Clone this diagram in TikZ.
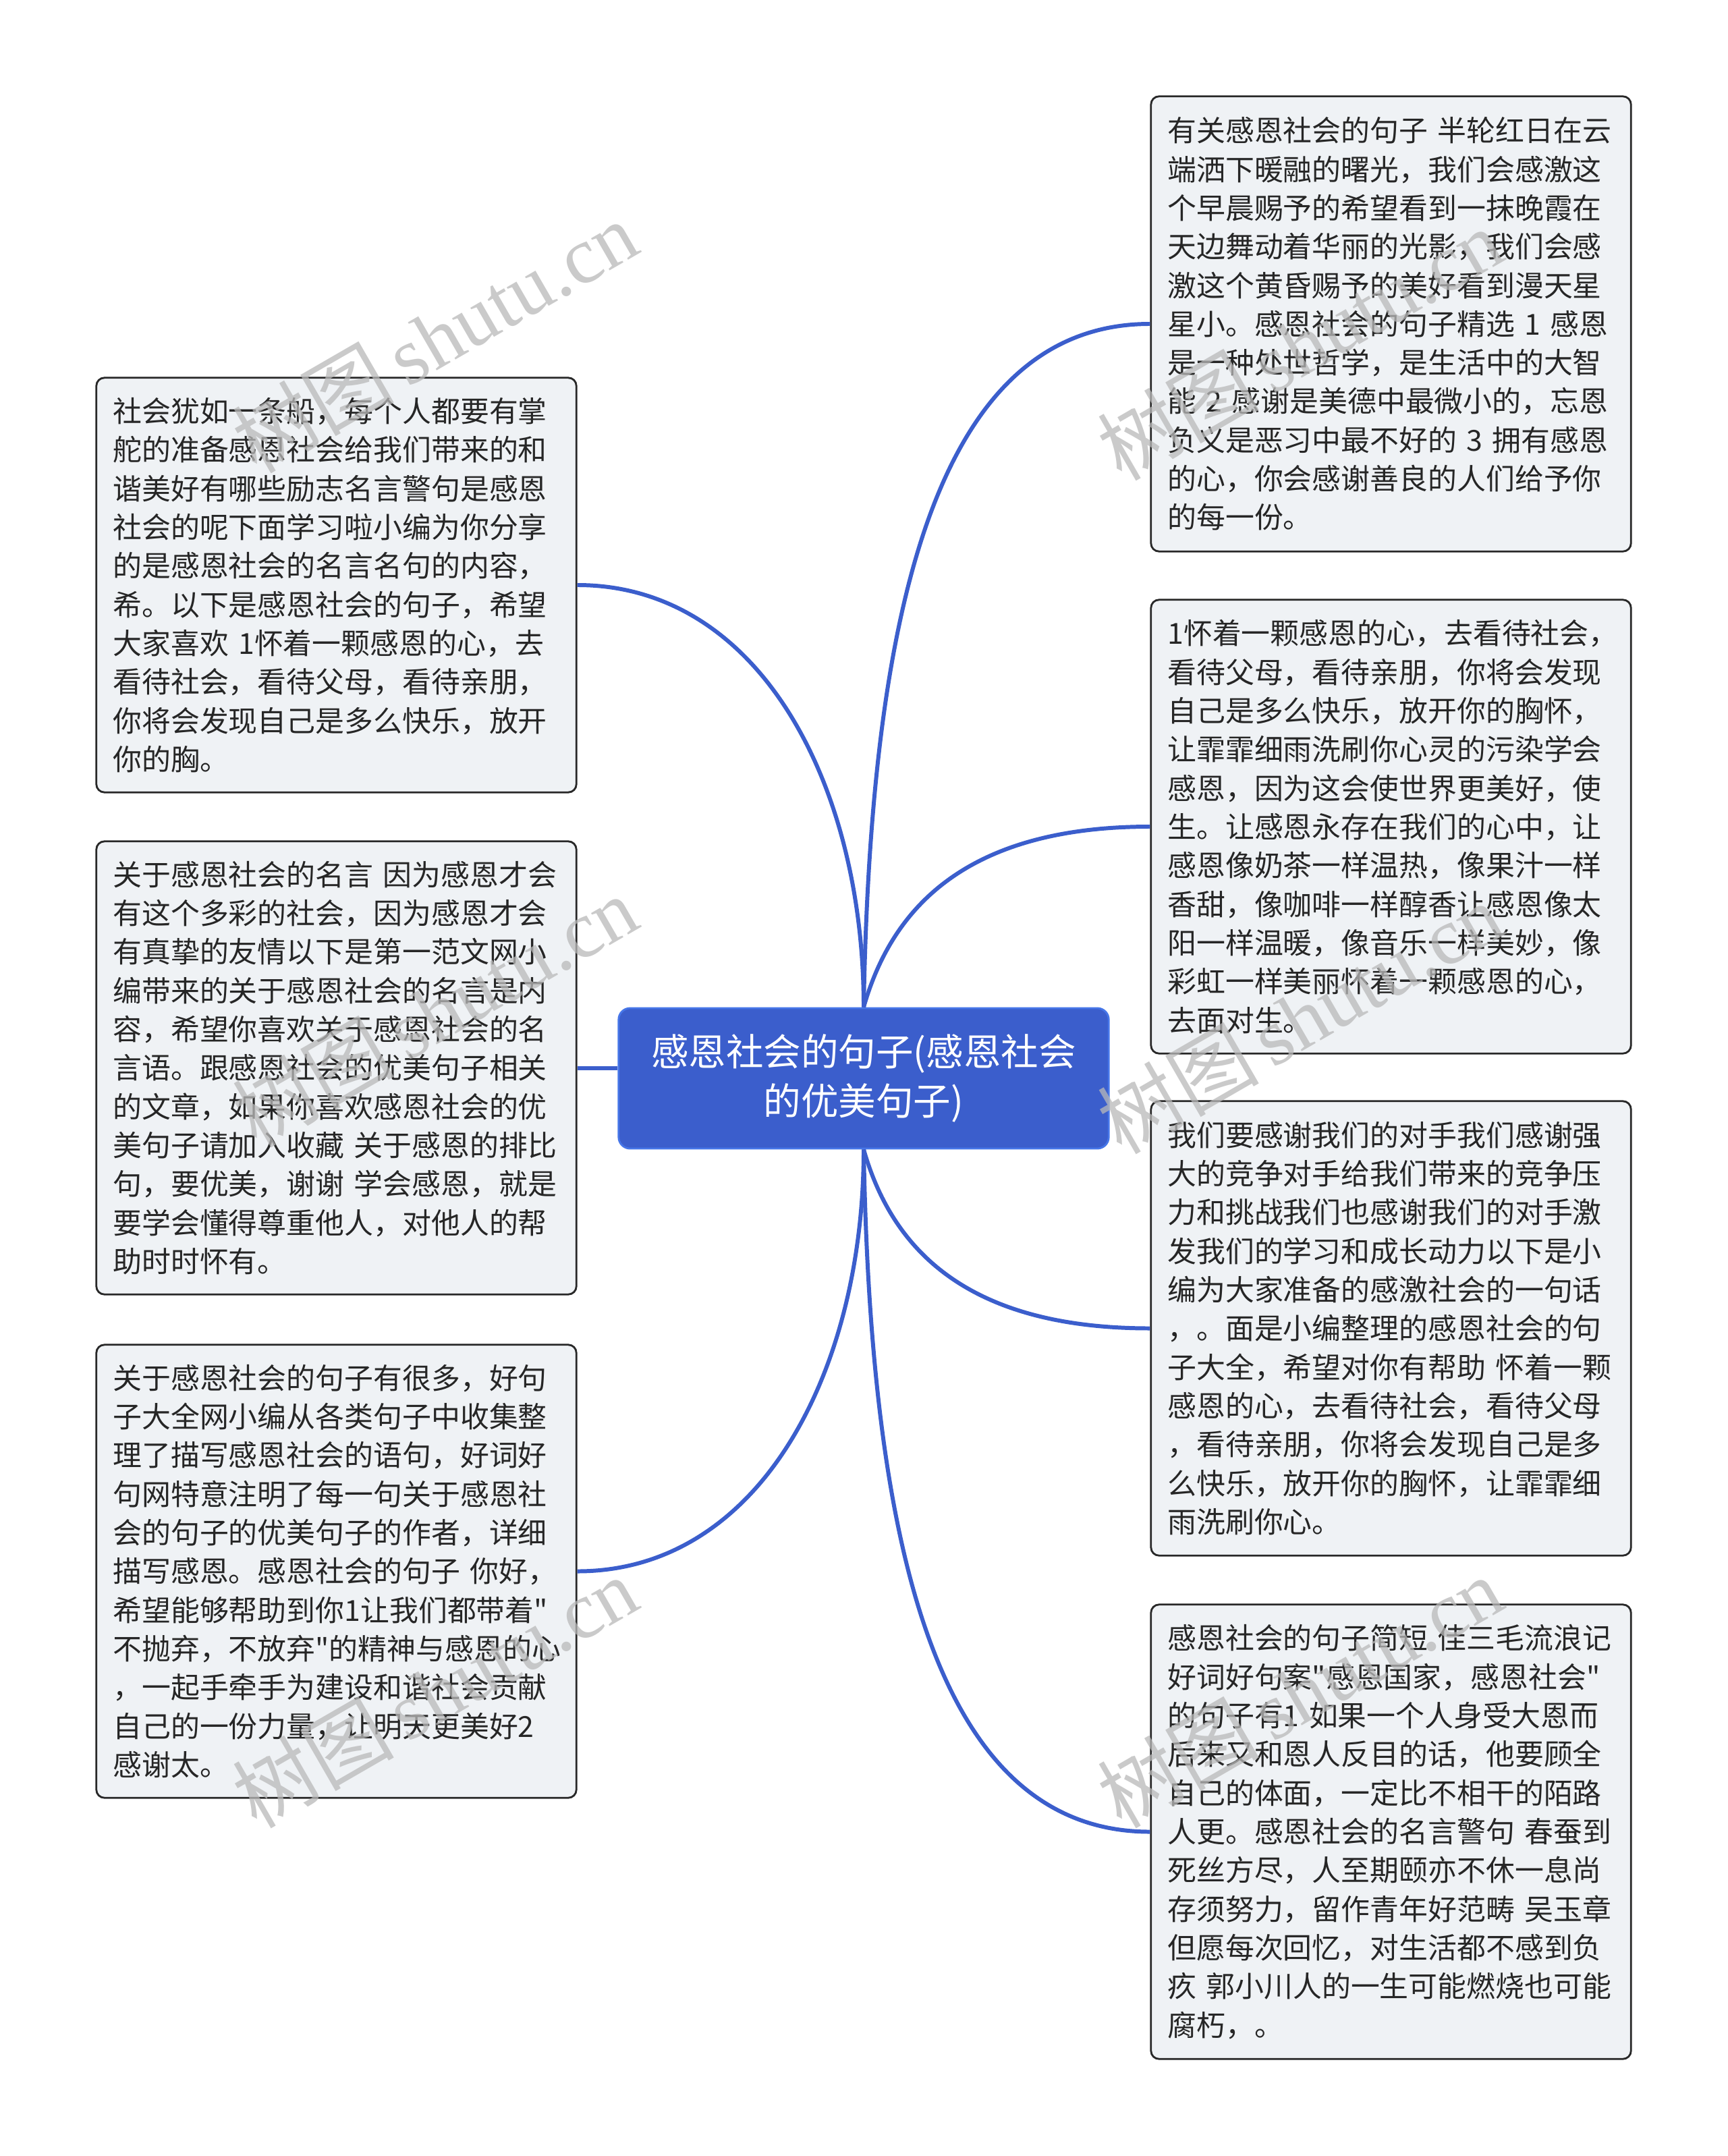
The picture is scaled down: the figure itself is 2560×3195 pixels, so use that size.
\documentclass[tikz,border=0pt]{standalone}
\usepackage{fontspec}
\newfontfamily\cjk{Noto Sans CJK SC}
\newfontfamily\marklatin{Liberation Serif}

\definecolor{rootblue}{RGB}{59,94,204}
\definecolor{rootedge}{RGB}{70,118,232}
\definecolor{leaffill}{RGB}{239,242,245}
\definecolor{leafedge}{RGB}{40,40,40}
\definecolor{leaftext}{RGB}{38,38,38}
\definecolor{markgray}{RGB}{185,185,185}

\begin{document}
\begin{tikzpicture}[x=0.01cm, y=-0.01cm,
    rootbox/.style={rectangle, rounded corners=0.17cm, fill=rootblue, draw=rootedge, line width=0.8pt,
        text=white, align=center, minimum width=7.26cm, minimum height=2.08cm,
        font=\cjk\fontsize{15.8pt}{20.8pt}\selectfont},
    leafbox/.style={rectangle, rounded corners=0.12cm, fill=leaffill, draw=leafedge, line width=0.8pt,
        text=leaftext, align=left, text width=6.62cm, inner xsep=0.245cm, inner ysep=0pt,
        font=\cjk\fontsize{12.2pt}{16.3pt}\selectfont},
    branchline/.style={draw=rootblue, line width=1.7pt},
    watermark/.style={rotate=30, text=markgray, text opacity=0.75, font=\fontsize{34pt}{34pt}\selectfont}]

    \path[fill=white, use as bounding box] (0,0) rectangle (2560,3195);

    % Draw the root node
    \node[rootbox] (root) at (1280,1598) {感恩社会的句子(感恩社会\\的优美句子)};

    % Draw nodes on the left side
    \node[leafbox, minimum height=6.14cm] (l1) at (498.5,867) {社会犹如一条船，每个人都要有掌\\舵的准备感恩社会给我们带来的和\\谐美好有哪些励志名言警句是感恩\\社会的呢下面学习啦小编为你分享\\的是感恩社会的名言名句的内容，\\希。以下是感恩社会的句子，希望\\大家喜欢 1怀着一颗感恩的心，去\\看待社会，看待父母，看待亲朋，\\你将会发现自己是多么快乐，放开\\你的胸。};
    \node[leafbox, minimum height=6.71cm] (l2) at (498.5,1582.5) {关于感恩社会的名言 因为感恩才会\\有这个多彩的社会，因为感恩才会\\有真挚的友情以下是第一范文网小\\编带来的关于感恩社会的名言是内\\容，希望你喜欢关于感恩社会的名\\言语。跟感恩社会的优美句子相关\\的文章，如果你喜欢感恩社会的优\\美句子请加入收藏 关于感恩的排比\\句，要优美，谢谢 学会感恩，就是\\要学会懂得尊重他人，对他人的帮\\助时时怀有。};
    \node[leafbox, minimum height=6.71cm] (l3) at (498.5,2328.5) {关于感恩社会的句子有很多，好句\\子大全网小编从各类句子中收集整\\理了描写感恩社会的语句，好词好\\句网特意注明了每一句关于感恩社\\会的句子的优美句子的作者，详细\\描写感恩。感恩社会的句子 你好，\\希望能够帮助到你1让我们都带着"\\不抛弃，不放弃"的精神与感恩的心\\，一起手牵手为建设和谐社会贡献\\自己的一份力量，让明天更美好2\\感谢太。};

    % Draw nodes on the right side
    \node[leafbox, minimum height=6.74cm] (r1) at (2061.5,480) {有关感恩社会的句子 半轮红日在云\\端洒下暖融的曙光，我们会感激这\\个早晨赐予的希望看到一抹晚霞在\\天边舞动着华丽的光影，我们会感\\激这个黄昏赐予的美好看到漫天星\\星小。感恩社会的句子精选 1 感恩\\是一种处世哲学，是生活中的大智\\能 2 感谢是美德中最微小的，忘恩\\负义是恶习中最不好的 3 拥有感恩\\的心，你会感谢善良的人们给予你\\的每一份。};
    \node[leafbox, minimum height=6.72cm] (r2) at (2061.5,1225) {1怀着一颗感恩的心，去看待社会，\\看待父母，看待亲朋，你将会发现\\自己是多么快乐，放开你的胸怀，\\让霏霏细雨洗刷你心灵的污染学会\\感恩，因为这会使世界更美好，使\\生。让感恩永存在我们的心中，让\\感恩像奶茶一样温热，像果汁一样\\香甜，像咖啡一样醇香让感恩像太\\阳一样温暖，像音乐一样美妙，像\\彩虹一样美丽怀着一颗感恩的心，\\去面对生。};
    \node[leafbox, minimum height=6.73cm] (r3) at (2061.5,1968.5) {我们要感谢我们的对手我们感谢强\\大的竞争对手给我们带来的竞争压\\力和挑战我们也感谢我们的对手激\\发我们的学习和成长动力以下是小\\编为大家准备的感激社会的一句话\\，。面是小编整理的感恩社会的句\\子大全，希望对你有帮助 怀着一颗\\感恩的心，去看待社会，看待父母\\，看待亲朋，你将会发现自己是多\\么快乐，放开你的胸怀，让霏霏细\\雨洗刷你心。};
    \node[leafbox, minimum height=6.73cm] (r4) at (2061.5,2714.5) {感恩社会的句子简短 佳三毛流浪记\\好词好句案"感恩国家，感恩社会"\\的句子有1 如果一个人身受大恩而\\后来又和恩人反目的话，他要顾全\\自己的体面，一定比不相干的陌路\\人更。感恩社会的名言警句 春蚕到\\死丝方尽，人至期颐亦不休一息尚\\存须努力，留作青年好范畴 吴玉章\\但愿每次回忆，对生活都不感到负\\疚 郭小川人的一生可能燃烧也可能\\腐朽，。};

    % Draw branches
    \draw[branchline] (root.north) .. controls +(0,-330) and +(270,0) .. (l1.east);
    \draw[branchline] (l2.east) -- (l2.east -| root.west);
    \draw[branchline] (root.south) .. controls +(0,330) and +(270,0) .. (l3.east);
    \draw[branchline] (root.north) .. controls +(10,-550) and +(-330,0) .. (r1.west);
    \draw[branchline] (root.north) .. controls +(40,-140) and +(-280,0) .. (r2.west);
    \draw[branchline] (root.south) .. controls +(40,140) and +(-280,0) .. (r3.west);
    \draw[branchline] (root.south) .. controls +(10,550) and +(-330,0) .. (r4.west);

    % Watermarks
    \node[watermark] (wm1) at (644,499) {\cjk 树图\,\marklatin shutu.cn};
    \node[watermark] (wm2) at (1926,510) {\cjk 树图\,\marklatin shutu.cn};
    \node[watermark] (wm3) at (644,1498) {\cjk 树图\,\marklatin shutu.cn};
    \node[watermark] (wm4) at (1926,1508) {\cjk 树图\,\marklatin shutu.cn};
    \node[watermark] (wm5) at (644,2507) {\cjk 树图\,\marklatin shutu.cn};
    \node[watermark] (wm6) at (1926,2507) {\cjk 树图\,\marklatin shutu.cn};
\end{tikzpicture}
\end{document}
